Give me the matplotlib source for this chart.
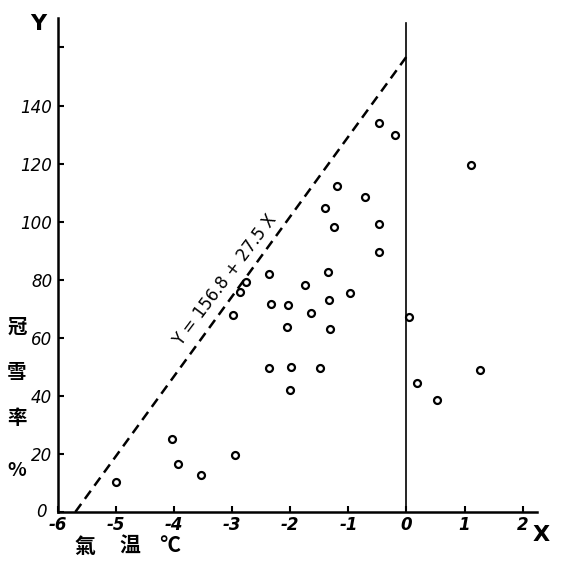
import matplotlib
matplotlib.use("Agg")
import matplotlib.pyplot as plt
import numpy as np

# Data
temp_c = [-5.00, -4.04, -3.93, -3.53, -2.96, -2.99, -2.86, -2.76, -2.36, -2.34,
          -2.04, -2.06, -1.74, -1.64, -1.35, -1.33, -1.32, -0.98, -2.36, -1.98,
          -1.48, -2.01, -1.19, -0.71, -1.40, -1.24, -0.47, -0.48, -0.48, -0.20,
           0.04,  0.19,  0.52,  1.12,  1.27]
snow_pct = [10.2, 25.1, 16.6, 12.6, 19.7, 67.9, 75.7, 79.1, 81.8, 71.7,
            71.2, 63.7, 78.1, 68.6, 82.7, 73.0, 63.1, 75.5, 49.7, 49.8,
            49.7, 42.0, 112.4, 108.4, 104.6, 98.3, 99.2, 89.5, 134.1, 129.8,
            67.3, 44.3, 38.5, 119.5, 49.0]
intercept = 156.8
slope = 27.5
x_ticks = [-6, -5, -4, -3, -2, -1, 0, 1, 2]
x_tick_labels = ["-6", "-5", "-4", "-3", "-2", "-1", "0", "1", "2"]
y_ticks = [20, 40, 60, 80, 100, 120, 140, 160]
y_tick_labels = ["20", "40", "60", "80", "100", "120", "140", ""]

tick_font = ['DejaVu Sans']
cjk = ['Noto Sans CJK TC', 'Noto Sans CJK JP', 'DejaVu Sans']

fig = plt.figure(figsize=(5.63, 5.68), dpi=100)
ax = fig.add_axes([0.103, 0.0986, 0.851, 0.869])
ax.set_xlim(-6, 2.25)
ax.set_ylim(0, 170)

for s in ['top', 'right']:
    ax.spines[s].set_visible(False)
ax.spines['left'].set_linewidth(1.8)
ax.spines['bottom'].set_linewidth(1.8)

# vertical line at x=0
ax.plot([0, 0], [0, 168.5], color='black', lw=1.2)

# regression line
xl = np.array([-intercept / slope, 0])
ax.plot(xl, intercept + slope * xl, color='black', lw=1.8, ls=(0, (4, 2.5)))

ax.plot(temp_c, snow_pct, ls='none', marker='o', ms=5, mfc='white',
        mec='black', mew=1.6)

ax.set_xticks(x_ticks)
ax.set_xticklabels(x_tick_labels, fontsize=12, style='italic', family=tick_font,
                   fontweight='bold')
ax.set_yticks([0] + y_ticks)
ax.set_yticklabels([""] + y_tick_labels, fontsize=12, style='italic',
                   family=tick_font)
ax.tick_params(axis='both', direction='in', length=4, width=1.5, pad=3)
ax.tick_params(axis='y', pad=4)

# zero label at origin
ax.text(-6.2, 0, "0", fontsize=12, style='italic', family=tick_font,
        ha='right', va='center')

# equation along the line
ax.text(-3.12, 80, "Y = 156.8 + 27.5 X", rotation=53, fontsize=12,
        family=tick_font, ha='center', va='center', rotation_mode='anchor')

# axis letters
fig.text(38 / 563, 1 - 24 / 568, "Y", fontsize=16, fontweight='bold',
         ha='center', va='center')
fig.text(541 / 563, 1 - 535 / 568, "X", fontsize=16, fontweight='bold',
         ha='center', va='center')

# vertical Y label
for ch, py in zip(["冠", "雪", "率", "%"], [327, 373, 418, 470]):
    fig.text(17 / 563, 1 - py / 568, ch, fontsize=14, fontweight='bold',
             family=cjk, ha='center', va='center')

# X label
for ch, px in zip(["氣", "温", "°C"], [85, 130, 170]):
    fig.text(px / 563, 1 - 546 / 568, ch, fontsize=15, fontweight='bold',
             family=cjk, ha='center', va='center')

fig.savefig("out.png", dpi=100, facecolor='white')
